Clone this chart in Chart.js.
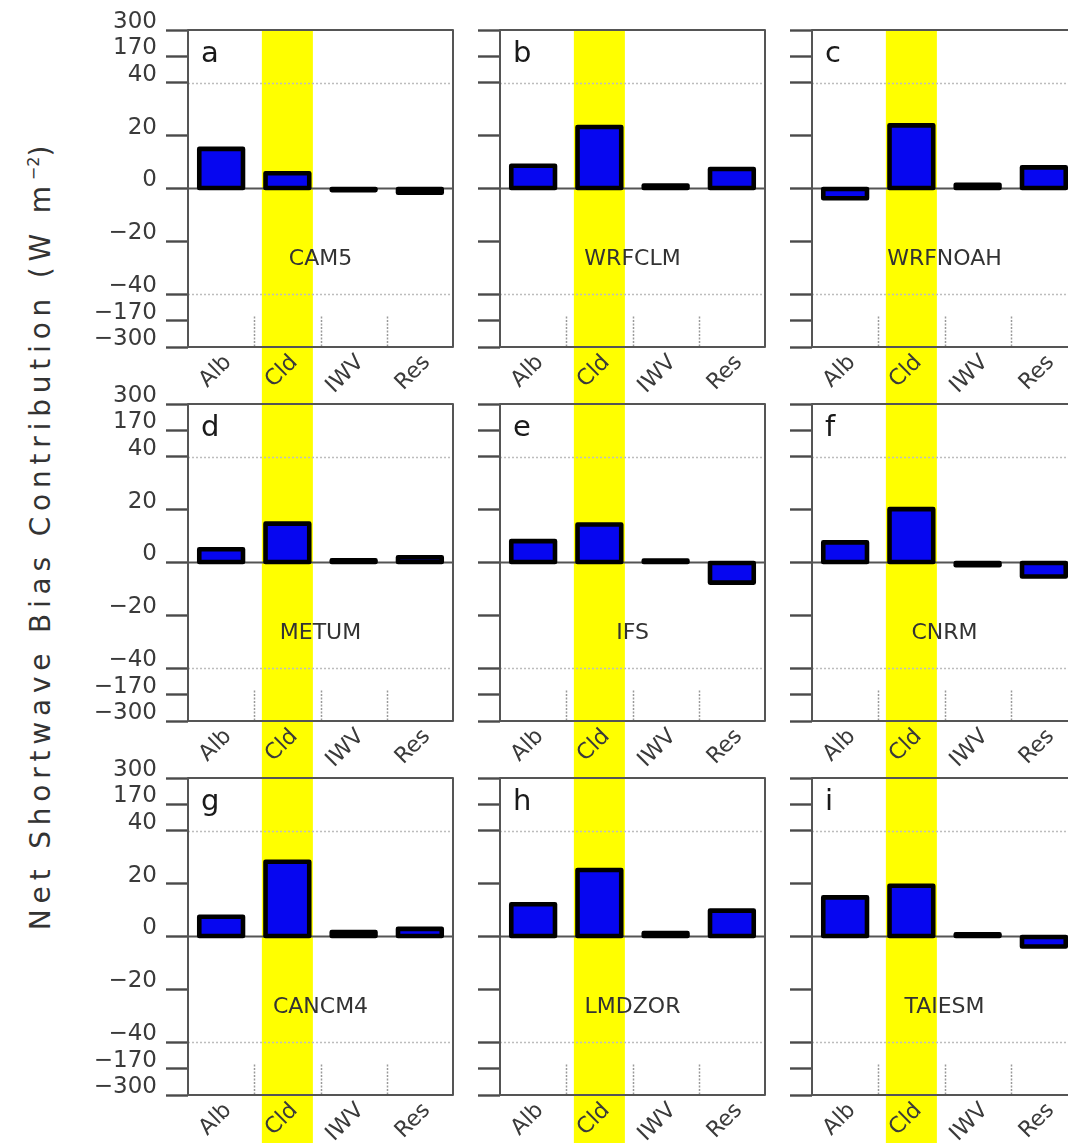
<!DOCTYPE html>
<html>
<head>
<meta charset="utf-8">
<script src="https://cdn.jsdelivr.net/npm/chart.js@4"></script>
<style>
  html, body { margin: 0; padding: 0; background: #fff; overflow: hidden; }
  body { width: 1068px; height: 1143px; position: relative; }
  canvas.panel { position: absolute; }
  #ytitle {
    position: absolute; left: 40px; top: 535px;
    transform: translate(-50%, -50%) rotate(-90deg);
    white-space: nowrap;
    font-family: "DejaVu Sans", sans-serif; font-size: 28px;
    letter-spacing: 5.8px; color: #333;
  }
  #ytitle sup { font-size: 16px; letter-spacing: 0; }
</style>
</head>
<body>
<div id="ytitle">Net Shortwave Bias Contribution (W m<sup>&minus;2</sup>)</div>
<script>
// Bias components shown on every panel
const components = ['Alb', 'Cld', 'IWV', 'Res'];
// Models, in panel order a–i
const models = ['CAM5', 'WRFCLM', 'WRFNOAH', 'METUM', 'IFS', 'CNRM', 'CANCM4', 'LMDZOR', 'TAIESM'];
const panelLetters = ['a', 'b', 'c', 'd', 'e', 'f', 'g', 'h', 'i'];

// Net shortwave bias contribution (W m-2) of each component, per model
const albedo   = [15.0,  8.6, -3.7,  5.0,  8.1,  7.6,  7.5, 12.2, 14.8];
const cloud    = [ 5.8, 23.3, 23.9, 14.7, 14.4, 20.2, 28.3, 25.2, 19.2];
const vapour   = [-0.6,  1.1,  1.4,  0.8,  0.7, -1.0,  1.7,  1.3,  0.8];
const residual = [-1.6,  7.4,  8.0,  2.0, -7.6, -5.3,  2.9,  9.8, -3.8];

// Y tick values; the axis is linear within ±40 and compressed beyond
const tickValues = [-300, -170, -40, -20, 0, 20, 40, 170, 300];
const tickLabels = tickValues.map(v => v < 0 ? '\u2212' + Math.abs(v) : String(v));

// Map a flux value onto the piecewise axis
function toAxis(v) {
  const a = Math.abs(v);
  if (a <= 40) return v;
  return Math.sign(v) * (40 + (a - 40) / 13);
}

const FONT = '"DejaVu Sans", sans-serif';
const HIGHLIGHT = 'Cld';

const panelDecor = {
  id: 'panelDecor',
  beforeDatasetsDraw(chart, args, opts) {
    const {ctx, chartArea: ca, scales: {x, y}} = chart;
    const step = x.getPixelForValue(1) - x.getPixelForValue(0);
    ctx.save();
    // highlighted component column
    const hx = x.getPixelForValue(components.indexOf(HIGHLIGHT));
    ctx.fillStyle = '#ffff00';
    ctx.fillRect(hx - step * 0.385, ca.top + 1, step * 0.77, chart.height - ca.top);
    // dotted guides at ±40
    ctx.strokeStyle = '#bdbdbd';
    ctx.lineWidth = 1.5;
    ctx.setLineDash([2, 2]);
    [40, -40].forEach(v => {
      const py = Math.round(y.getPixelForValue(toAxis(v))) + 0.5;
      ctx.beginPath(); ctx.moveTo(ca.left, py); ctx.lineTo(ca.right, py); ctx.stroke();
    });
    // short dotted separators between components
    ctx.strokeStyle = '#9a9a9a';
    ctx.setLineDash([2, 1.5]);
    const y0 = y.getPixelForValue(toAxis(-170)) - 4;
    for (let i = 0; i < components.length - 1; i++) {
      const sx = Math.round((x.getPixelForValue(i) + x.getPixelForValue(i + 1)) / 2) + 0.5;
      ctx.beginPath(); ctx.moveTo(sx, y0); ctx.lineTo(sx, ca.bottom); ctx.stroke();
    }
    ctx.setLineDash([]);
    // zero line
    const zy = y.getPixelForValue(0);
    ctx.strokeStyle = '#555';
    ctx.lineWidth = 2;
    ctx.beginPath(); ctx.moveTo(ca.left, zy); ctx.lineTo(ca.right, zy); ctx.stroke();
    ctx.restore();
  },
  afterDatasetsDraw(chart, args, opts) {
    const {ctx, chartArea: ca, scales: {x, y}} = chart;
    ctx.save();
    // bar outlines
    ctx.strokeStyle = '#000';
    ctx.lineWidth = 4.6;
    ctx.lineJoin = 'round';
    chart.getDatasetMeta(0).data.forEach(bar => {
      const p = bar.getProps(['x', 'y', 'base', 'width'], true);
      const top = Math.min(p.y, p.base), bot = Math.max(p.y, p.base);
      ctx.strokeRect(p.x - p.width / 2, top, p.width, bot - top);
    });
    // frame
    ctx.strokeStyle = '#555';
    ctx.lineWidth = 2;
    ctx.strokeRect(ca.left, ca.top, ca.right - ca.left, ca.bottom - ca.top);
    // panel letter
    ctx.fillStyle = '#1a1a1a';
    ctx.font = '29px ' + FONT;
    ctx.textAlign = 'left';
    ctx.textBaseline = 'alphabetic';
    ctx.fillText(opts.letter, ca.left + 13, ca.top + 32);
    // model name
    ctx.fillStyle = '#333';
    ctx.font = '22px ' + FONT;
    ctx.textAlign = 'center';
    ctx.textBaseline = 'middle';
    ctx.fillText(opts.model, (ca.left + ca.right) / 2, y.getPixelForValue(-26.8));
    // component labels, rotated
    ctx.fillStyle = '#3a3a3a';
    ctx.font = '22px ' + FONT;
    ctx.textAlign = 'right';
    components.forEach((c, i) => {
      ctx.save();
      ctx.translate(x.getPixelForValue(i) + 7, ca.bottom + 12);
      ctx.rotate(-Math.PI / 4);
      ctx.fillText(c, 0, 0);
      ctx.restore();
    });
    ctx.restore();
  }
};

const COL_W = 312, ROW_H = 374;
models.forEach((model, k) => {
  const row = Math.floor(k / 3), col = k % 3;
  const canvas = document.createElement('canvas');
  canvas.className = 'panel';
  canvas.width = 375; canvas.height = 404;
  canvas.style.width = '375px'; canvas.style.height = '404px';
  canvas.style.left = (88 + COL_W * col) + 'px';
  canvas.style.top = (ROW_H * row) + 'px';
  document.body.appendChild(canvas);

  const values = [albedo[k], cloud[k], vapour[k], residual[k]];
  new Chart(canvas, {
    type: 'bar',
    data: {
      labels: components,
      datasets: [{
        data: values.map(toAxis),
        backgroundColor: '#0606f0',
        borderWidth: 0,
        barPercentage: 0.66,
        categoryPercentage: 1.0
      }]
    },
    options: {
      responsive: false,
      animation: false,
      devicePixelRatio: 1,
      layout: { padding: { top: 30, right: 10, left: 0, bottom: 0 } },
      plugins: {
        legend: { display: false },
        tooltip: { enabled: false },
        panelDecor: { letter: panelLetters[k], model: model }
      },
      scales: {
        x: {
          grid: { display: false },
          border: { display: false },
          ticks: { display: false },
          afterFit: s => { s.height = 57; }
        },
        y: {
          min: -60, max: 60,
          afterBuildTicks: s => { s.ticks = tickValues.map(v => ({ value: toAxis(v) })); },
          border: { display: false },
          grid: { drawOnChartArea: false, drawTicks: true, tickLength: 22, tickColor: '#4a4a4a', tickWidth: 2.4, color: '#555' },
          ticks: {
            display: col === 0,
            autoSkip: false,
            padding: 9,
            labelOffset: -8,
            color: '#3a3a3a',
            font: { family: FONT, size: 23 },
            callback: (val, i) => tickLabels[i]
          },
          afterFit: s => { s.width = 100; }
        }
      }
    },
    plugins: [panelDecor]
  });
});
</script>
</body>
</html>
